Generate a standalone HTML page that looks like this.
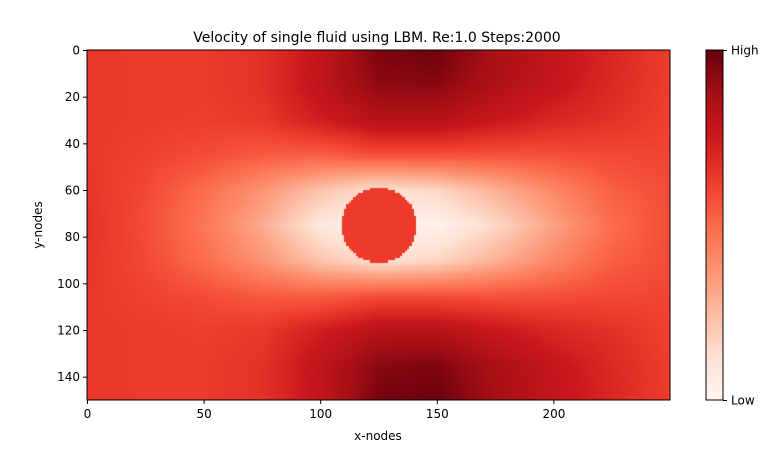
<!DOCTYPE html>
<html><head><meta charset="utf-8">
<style>
body{margin:0;background:#fff;width:783px;height:449px;overflow:hidden;font-family:"DejaVu Sans","Liberation Sans",sans-serif;}
svg text{font-family:"DejaVu Sans","Liberation Sans",sans-serif;fill:#000}
#hm{position:absolute;left:87px;top:50px;width:583px;height:350px}
</style></head><body>
<canvas id="hm" width="583" height="350"></canvas>
<svg id="ov" width="783" height="449" style="position:absolute;left:0;top:0"></svg>
<script>
// Coarse velocity field (0=low, 1=high), sampled every 25 x-nodes and 15 y-nodes
const xNodes=[0,25,50,75,100,125,150,175,200,225,250];
const yNodes=[0,15,30,45,60,75,90,105,120,135,150];
const field=[
[0.64,0.63,0.63,0.66,0.78,0.96,0.98,0.86,0.78,0.70,0.62],
[0.64,0.63,0.63,0.66,0.79,0.92,0.93,0.84,0.77,0.69,0.62],
[0.64,0.63,0.62,0.64,0.73,0.82,0.82,0.76,0.70,0.66,0.61],
[0.64,0.61,0.58,0.54,0.53,0.57,0.57,0.56,0.57,0.59,0.60],
[0.65,0.59,0.49,0.37,0.22,0.12,0.16,0.28,0.41,0.53,0.58],
[0.66,0.58,0.46,0.30,0.08,0.02,0.02,0.15,0.33,0.49,0.58],
[0.65,0.59,0.49,0.37,0.22,0.12,0.16,0.28,0.41,0.53,0.58],
[0.64,0.61,0.58,0.54,0.53,0.57,0.57,0.56,0.57,0.59,0.60],
[0.64,0.63,0.62,0.64,0.73,0.82,0.82,0.76,0.70,0.66,0.61],
[0.64,0.63,0.63,0.66,0.79,0.93,0.95,0.85,0.77,0.69,0.62],
[0.64,0.63,0.63,0.66,0.78,0.97,0.99,0.87,0.78,0.70,0.62]];
const cylinder={cx:125,cy:75,r:16,v:0.63};
const xTicks=[0,50,100,150,200];
const yTicks=[0,20,40,60,80,100,120,140];
const NX=250,NY=150;
const PX0=87,PY0=50,PW=583,PH=350;
const sx=n=>PX0+n/NX*PW, sy=n=>PY0+n/NY*PH;
const stops=[[255,245,240],[254,224,210],[252,187,161],[252,146,114],[251,106,74],[239,59,44],[203,24,29],[165,15,21],[103,0,13]];
function cmap(v){v=Math.max(0,Math.min(1,v))*8;const i=Math.min(7,Math.floor(v)),t=v-i,a=stops[i],b=stops[i+1];return [0,1,2].map(k=>Math.round(a[k]+(b[k]-a[k])*t));}
function sample(x,y){
 const fx=x/25,fy=y/15;const i=Math.min(9,Math.floor(fx)),j=Math.min(9,Math.floor(fy));const tx=fx-i,ty=fy-j;
 const a=field[j][i],b=field[j][i+1],c=field[j+1][i],d=field[j+1][i+1];
 let v=a*(1-tx)*(1-ty)+b*tx*(1-ty)+c*(1-tx)*ty+d*tx*ty;
 const dx=x-cylinder.cx,dy=y-cylinder.cy;if(dx*dx+dy*dy<=cylinder.r*cylinder.r)v=cylinder.v;
 return v;}
const cv=document.getElementById('hm'),ctx=cv.getContext('2d'),img=ctx.createImageData(PW,PH);
for(let py=0;py<PH;py++)for(let px=0;px<PW;px++){
 const n=Math.floor(px/PW*NX),m=Math.floor(py/PH*NY);
 const c=cmap(sample(n+0.5,m+0.5));const o=(py*PW+px)*4;img.data[o]=c[0];img.data[o+1]=c[1];img.data[o+2]=c[2];img.data[o+3]=255;}
ctx.putImageData(img,0,0);
const svg=document.getElementById('ov'),NS='http://www.w3.org/2000/svg';
function el(t,at,txt){const e=document.createElementNS(NS,t);for(const k in at)e.setAttribute(k,at[k]);if(txt!==undefined)e.textContent=txt;svg.appendChild(e);return e;}
let e=el('rect',{x:PX0,y:PY0,width:PW,height:PH,fill:'none',stroke:'#000','stroke-width':1});

xTicks.forEach(t=>{const x=sx(t)+0.5;
 let l=el('line',{x1:x,x2:x,y1:PY0+PH,y2:PY0+PH+4,stroke:'#000'});
 let tx=el('text',{x:x,y:PY0+PH+18,'text-anchor':'middle','font-size':12},t);});
yTicks.forEach(t=>{const y=sy(t)+0.5;
 let l=el('line',{x1:PX0-4,x2:PX0,y1:y,y2:y,stroke:'#000'});
 let tx=el('text',{x:PX0-7,y:y+4,'text-anchor':'end','font-size':12},t);});
e=el('text',{x:377,y:42,'text-anchor':'middle','font-size':14},'Velocity of single fluid using LBM. Re:1.0 Steps:2000');

e=el('text',{x:378,y:440,'text-anchor':'middle','font-size':12},'x-nodes');

e=el('text',{x:42,y:225,'text-anchor':'middle','font-size':12,transform:'rotate(-90 42 225)'},'y-nodes');

const defs=el('defs',{});const g=document.createElementNS(NS,'linearGradient');g.setAttribute('id','cb');g.setAttribute('x1',0);g.setAttribute('x2',0);g.setAttribute('y1',1);g.setAttribute('y2',0);defs.appendChild(g);
stops.forEach((s,i)=>{const st=document.createElementNS(NS,'stop');st.setAttribute('offset',i/8);st.setAttribute('stop-color','rgb('+s.join(',')+')');g.appendChild(st);});
e=el('rect',{x:706,y:50,width:17,height:350,fill:'url(#cb)',stroke:'#000','stroke-width':1});

[[50.5,'High'],[400.5,'Low']].forEach(([y,t])=>{
 let l=el('line',{x1:723,x2:727,y1:y,y2:y,stroke:'#000'});
 let tx=el('text',{x:731,y:y+4,'font-size':12},t);});
</script>
</body></html>
